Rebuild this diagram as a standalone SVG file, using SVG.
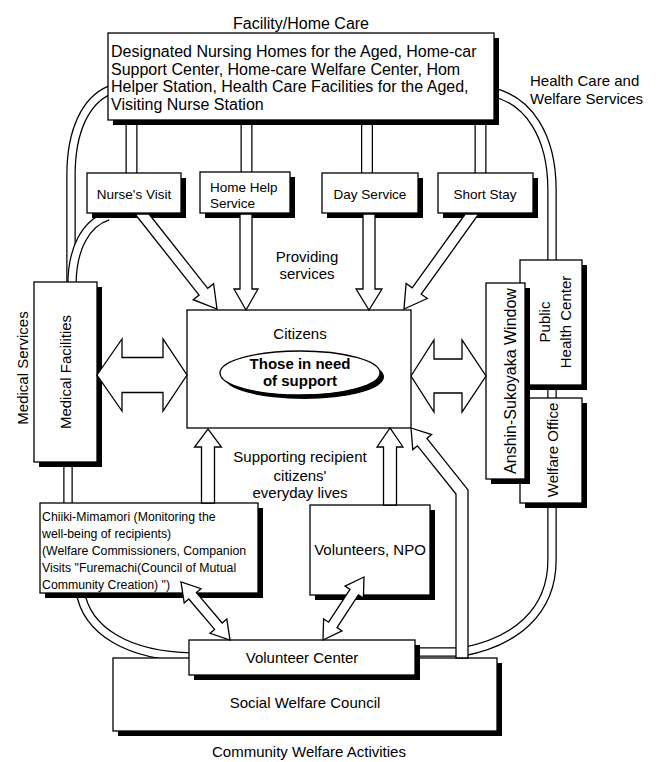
<svg xmlns="http://www.w3.org/2000/svg" xmlns:xlink="http://www.w3.org/1999/xlink" width="660" height="762" viewBox="0 0 660 762">
<style>
text{font-family:"Liberation Sans",Arial,sans-serif;fill:#000}
.t15{font-size:15px}
.t16{font-size:16px}
.t13{font-size:13.5px}
.t12{font-size:12.3px}
.b{font-weight:bold}
.box{fill:#fff;stroke:#000;stroke-width:1.3}
.sh{fill:#000}
.wo{fill:none;stroke:#000;stroke-width:9.5}
.wi{fill:none;stroke:#fff;stroke-width:7}
.two{fill:none;stroke:#000;stroke-width:12}
.twi{fill:none;stroke:#fff;stroke-width:9.5}
.arr{fill:#fff;stroke:#000;stroke-width:1.3;stroke-linejoin:miter}
</style>
<defs>
<path id="cLeftOuter" d="M110,90 C86,100 71,130 71,175 L71,285"/>
<path id="cLeftInner" d="M108,216 C86,223 72,248 72,285"/>
<path id="cRightTop" d="M492,92 C528,100 552,135 552,190 L552,262"/>
<path id="cPhcWo" d="M552,384 L552,400"/>
<path id="cRightBottom" d="M552,500 L552,560 C552,612 515,642 462,652"/>
<path id="cMedChiiki" d="M68,460 L68,505"/>
<path id="cChiikiVC" d="M80,590 C86,632 130,656 192,657"/>
<path id="cVCRight" d="M415,652 L462,652"/>
<path id="cTop1" d="M131.5,118 L131.5,175"/>
<path id="cTop2" d="M246.5,118 L246.5,175"/>
<path id="cTop3" d="M367,118 L367,175"/>
<path id="cTop4" d="M480.5,118 L480.5,175"/>
</defs>

<g id="connectors">
<use xlink:href="#cLeftOuter" class="wo"/><use xlink:href="#cLeftOuter" class="wi"/>
<use xlink:href="#cLeftInner" class="wo"/><use xlink:href="#cLeftInner" class="wi"/>
<use xlink:href="#cRightTop" class="wo"/><use xlink:href="#cRightTop" class="wi"/>
<use xlink:href="#cPhcWo" class="wo"/><use xlink:href="#cPhcWo" class="wi"/>
<use xlink:href="#cRightBottom" class="wo"/><use xlink:href="#cRightBottom" class="wi"/>
<use xlink:href="#cMedChiiki" class="wo"/><use xlink:href="#cMedChiiki" class="wi"/>
<use xlink:href="#cChiikiVC" class="wo"/><use xlink:href="#cChiikiVC" class="wi"/>
<use xlink:href="#cVCRight" class="wo"/><use xlink:href="#cVCRight" class="wi"/>
<use xlink:href="#cTop1" class="two"/><use xlink:href="#cTop1" class="twi"/>
<use xlink:href="#cTop2" class="two"/><use xlink:href="#cTop2" class="twi"/>
<use xlink:href="#cTop3" class="two"/><use xlink:href="#cTop3" class="twi"/>
<use xlink:href="#cTop4" class="two"/><use xlink:href="#cTop4" class="twi"/>
</g>

<text class="t16" x="301" y="29" text-anchor="middle">Facility/Home Care</text>
<text class="t15" x="530" y="86">Health Care and</text>
<text class="t15" x="530" y="104">Welfare Services</text>
<text class="t15" transform="translate(28,368) rotate(-90)" text-anchor="middle">Medical Services</text>
<text class="t15" x="307" y="262" text-anchor="middle">Providing</text>
<text class="t15" x="307" y="279" text-anchor="middle">services</text>
<text class="t15" x="300" y="462" text-anchor="middle">Supporting recipient</text>
<text class="t15" x="300" y="481" text-anchor="middle">citizens'</text>
<text class="t15" x="300" y="498" text-anchor="middle">everyday lives</text>
<text class="t15" x="309" y="757" text-anchor="middle">Community Welfare Activities</text>

<g id="facility">
<rect class="sh" x="113" y="38" width="386" height="87"/>
<rect class="box" x="108" y="33" width="386" height="87"/>
<text class="t16" x="111" y="57">Designated Nursing Homes for the Aged, Home-car</text>
<text class="t16" x="111" y="75">Support Center, Home-care Welfare Center, Hom</text>
<text class="t16" x="111" y="92">Helper Station, Health Care Facilities for the Aged,</text>
<text class="t16" x="111" y="110">Visiting Nurse Station</text>
</g>

<g id="nurses-visit">
<rect class="sh" x="92" y="178" width="94" height="40"/>
<rect class="box" x="87" y="173" width="94" height="40"/>
<text class="t13" x="134" y="199" text-anchor="middle">Nurse's Visit</text>
</g>
<g id="home-help">
<rect class="sh" x="205" y="177" width="90" height="41"/>
<rect class="box" x="200" y="172" width="90" height="41"/>
<text class="t13" x="210" y="192">Home Help</text>
<text class="t13" x="210" y="208">Service</text>
</g>
<g id="day-service">
<rect class="sh" x="327" y="178" width="96" height="40"/>
<rect class="box" x="322" y="173" width="96" height="40"/>
<text class="t13" x="370" y="199" text-anchor="middle">Day Service</text>
</g>
<g id="short-stay">
<rect class="sh" x="443" y="178" width="95" height="40"/>
<rect class="box" x="438" y="173" width="95" height="40"/>
<text class="t13" x="485" y="199" text-anchor="middle">Short Stay</text>
</g>

<g id="citizens">
<rect class="box" x="187" y="310" width="224" height="118"/>
<text class="t15" x="300" y="339" text-anchor="middle">Citizens</text>
<ellipse class="sh" cx="304" cy="377" rx="80" ry="22"/>
<ellipse class="box" cx="300" cy="373" rx="80" ry="22"/>
<text class="t15 b" x="300" y="369" text-anchor="middle">Those in need</text>
<text class="t15 b" x="300" y="386" text-anchor="middle">of support</text>
</g>

<g id="medical-facilities">
<rect class="sh" x="39" y="287" width="63" height="180"/>
<rect class="box" x="34" y="282" width="63" height="180"/>
<text class="t15" transform="translate(71,372) rotate(-90)" text-anchor="middle">Medical Facilities</text>
</g>

<g id="public-health-center">
<rect class="sh" x="525" y="265" width="62" height="125"/>
<rect class="box" x="520" y="260" width="62" height="125"/>
<text class="t15" transform="translate(550,322) rotate(-90)" text-anchor="middle">Public</text>
<text class="t15" transform="translate(571,322) rotate(-90)" text-anchor="middle">Health Center</text>
</g>
<g id="welfare-office">
<rect class="sh" x="525" y="403" width="62" height="105"/>
<rect class="box" x="520" y="398" width="62" height="105"/>
<text class="t15" transform="translate(558,450) rotate(-90)" text-anchor="middle">Welfare Office</text>
</g>
<g id="anshin-window">
<rect class="sh" x="491" y="288" width="39" height="196"/>
<rect class="box" x="486" y="283" width="39" height="196"/>
<text class="t16" transform="translate(516,381) rotate(-90)" text-anchor="middle">Anshin-Sukoyaka Window</text>
</g>

<g id="chiiki-mimamori">
<rect class="sh" x="45" y="508" width="218" height="90"/>
<rect class="box" x="40" y="503" width="218" height="90"/>
<text class="t12" x="42" y="521">Chiiki-Mimamori (Monitoring the</text>
<text class="t12" x="42" y="538">well-being of recipients)</text>
<text class="t12" x="42" y="555">(Welfare Commissioners, Companion</text>
<text class="t12" x="42" y="572">Visits "Furemachi(Council of Mutual</text>
<text class="t12" x="42" y="589">Community Creation) ")</text>
</g>

<g id="volunteers-npo">
<rect class="sh" x="315" y="510" width="120" height="90"/>
<rect class="box" x="310" y="505" width="120" height="90"/>
<text class="t15" x="370" y="555" text-anchor="middle">Volunteers, NPO</text>
</g>

<g id="social-welfare-council">
<rect class="sh" x="118" y="663" width="384" height="73"/>
<rect class="box" x="113" y="658" width="384" height="73"/>
<text class="t15" x="305" y="708" text-anchor="middle">Social Welfare Council</text>
</g>

<g id="volunteer-center">
<rect class="sh" x="194" y="645" width="226" height="35"/>
<rect class="box" x="189" y="640" width="226" height="35"/>
<text class="t15" x="302" y="663" text-anchor="middle">Volunteer Center</text>
</g>

<g id="arrows">
<polygon class="arr" points="135,214 199.1,295.1 193.2,299.7 217,309 213.6,283.7 207.7,288.3 149,214"/>
<polygon class="arr" points="240,214 252,214 252,289 258,289 246,310 234,289 240,289"/>
<polygon class="arr" points="363,214 375,214 375,289 382,289 369,310 356,289 363,289"/>
<polygon class="arr" points="465.3,214 412.2,287.8 406.1,283.5 404,309 427.3,298.5 421.2,294.2 478.7,214"/>
<polygon class="arr" points="97,375 122,339 122,357.5 163,357.5 163,339 187,375 163,411 163,392.5 122,392.5 122,411"/>
<polygon class="arr" points="411,376 434,340 434,359 462,359 462,340 486,376 462,412 462,393 434,393 434,412"/>
<polygon class="arr" points="201.5,503 214.5,503 214.5,447 221.5,447 208,429 194.5,447 201.5,447"/>
<polygon class="arr" points="383.5,505 396.5,505 396.5,447 403,447 390,428 377,447 383.5,447"/>
<polygon class="arr" points="411,428 431.6,434.6 426.9,438.4 468,489.9 468,658 456,658 456,494.1 417.5,445.8 412.8,449.6"/>
<polygon class="arr" points="181,582 184.2,602.9 188.8,599 214.6,629.4 210,633.3 230,640 226.8,619.1 222.2,623 196.4,592.6 201,588.7"/>
<polygon class="arr" points="364,577 345,586.1 350,589.4 328.6,622.2 323.6,618.9 323,640 342,630.9 337,627.6 358.4,594.8 363.4,598.1"/>
</g>
</svg>
